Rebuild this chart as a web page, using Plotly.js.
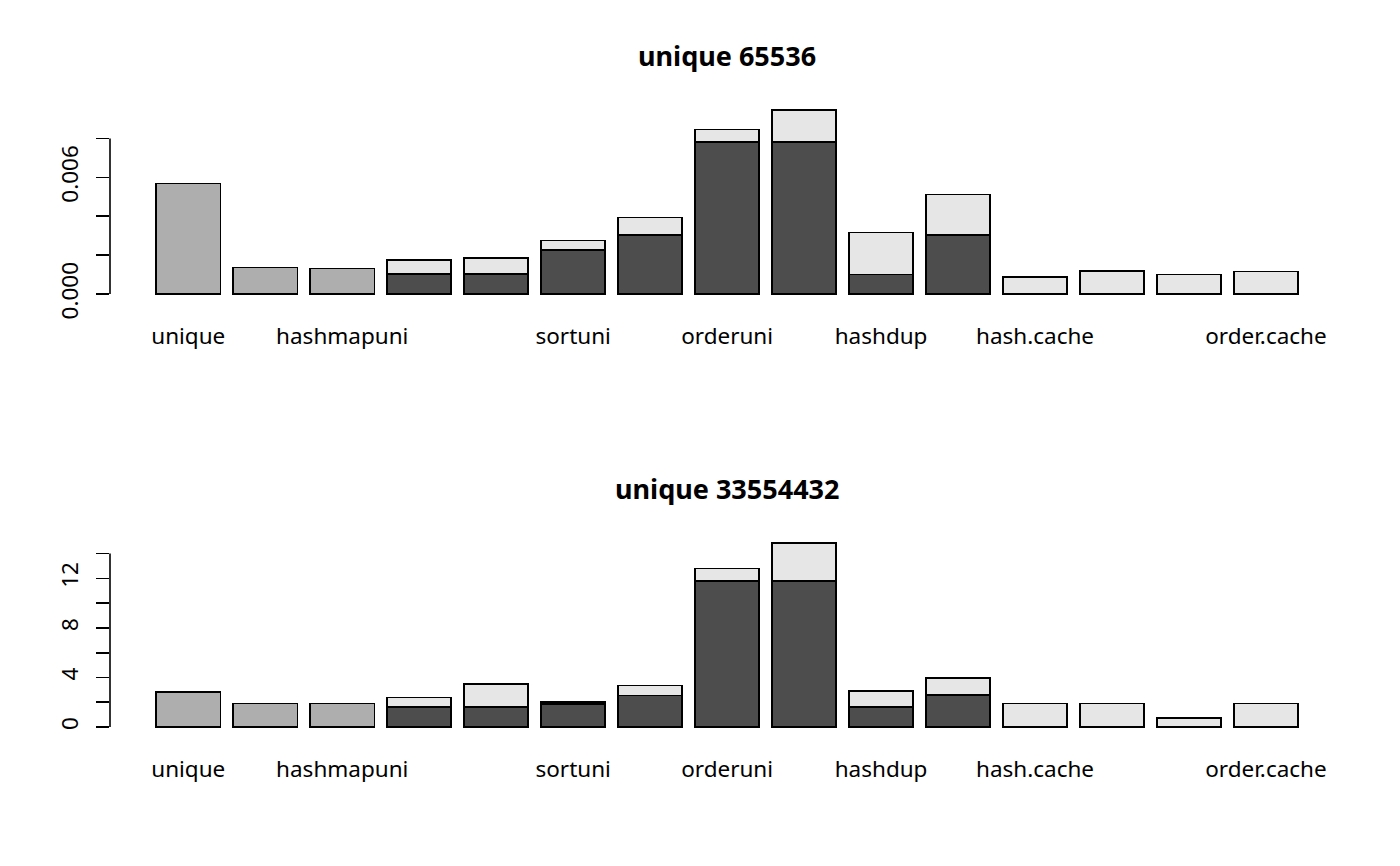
<!DOCTYPE html>
<html>
<head>
<meta charset="utf-8">
<script src="https://cdn.plot.ly/plotly-3.0.1.min.js"></script>
<style>html,body{margin:0;padding:0;background:#fff;}#chart{width:1400px;height:866px;}</style>
</head>
<body>
<div id="chart"></div>
<script>
// ---- data ----
var tickLabels = ['unique', '', 'hashmapuni', '', '', 'sortuni', '', 'orderuni', '', 'hashdup', '', 'hash.cache', '', '', 'order.cache'];

var titleTop = 'unique 65536';
var grayTop  = [0.00569, 0.001375, 0.00131, null, null, null, null, null, null, null, null, null, null, null, null];
var darkTop  = [null, null, null, 0.00103, 0.00103, 0.00225, 0.00303, 0.00782, 0.00782, 0.00101, 0.00303, null, null, null, null];
var lightTop = [null, null, null, 0.00071, 0.00081, 0.00050, 0.00091, 0.00064, 0.00164, 0.00215, 0.00209, 0.00088, 0.00120, 0.00100, 0.00115];
var yTicksTop = [0, 0.002, 0.004, 0.006, 0.008];
var yTickTextTop = ['0.000', '', '', '0.006', ''];

var titleBot = 'unique 33554432';
var grayBot  = [2.82, 1.91, 1.91, null, null, null, null, null, null, null, null, null, null, null, null];
var darkBot  = [null, null, null, 1.61, 1.61, 1.86, 2.56, 11.78, 11.78, 1.61, 2.61, null, null, null, null];
var lightBot = [null, null, null, 0.76, 1.86, 0.18, 0.80, 1.03, 3.07, 1.30, 1.37, 1.91, 1.91, 0.75, 1.91];
var yTicksBot = [0, 2, 4, 6, 8, 10, 12, 14];
var yTickTextBot = ['0', '', '4', '', '8', '', '12', ''];

// ---- styling ----
var W = 1400, H = 866;
var FONT = 'Noto Sans';
var FS = 22.5;
var cDark = '#4D4D4D', cGray = '#AEAEAE', cLight = '#E6E6E6';
var pos = tickLabels.map(function (_, i) { return i; });
var barW = 1 / 1.2;
var xDom = [110 / W, 1357 / W];
var xRange = [-1.017, 15.183];

function totals(a, b, c) {
  return pos.map(function (i) { return (a[i] || 0) + (b[i] || 0) + (c[i] || 0); });
}
function yRange(a, b, c) {
  var m = Math.max.apply(null, totals(a, b, c));
  return [-0.04 * m, 1.04 * m];
}
function barTrace(vals, color, xa, ya) {
  return {
    type: 'bar', x: pos, y: vals, width: barW, xaxis: xa, yaxis: ya,
    marker: { color: color, line: { color: '#000', width: 1.6 } },
    hoverinfo: 'skip', showlegend: false
  };
}

var data = [
  barTrace(grayTop, cGray, 'x', 'y'),
  barTrace(darkTop, cDark, 'x', 'y'),
  barTrace(lightTop, cLight, 'x', 'y'),
  barTrace(grayBot, cGray, 'x2', 'y2'),
  barTrace(darkBot, cDark, 'x2', 'y2'),
  barTrace(lightBot, cLight, 'x2', 'y2')
];

function xAxis(anchor) {
  return {
    domain: xDom, range: xRange, anchor: anchor,
    tickmode: 'array', tickvals: pos, ticktext: tickLabels,
    ticks: '', showline: false, showgrid: false, zeroline: false,
    tickfont: { family: FONT, size: FS, color: '#000' },
    ticklabelstandoff: 19, tickangle: 0, fixedrange: true
  };
}
function yAxis(anchor, dom, rng, tv, tt) {
  return {
    domain: dom, range: rng, anchor: anchor,
    tickmode: 'array', tickvals: tv, ticktext: tt,
    ticks: 'outside', ticklen: 13, tickwidth: 1.6, tickcolor: '#000',
    showline: false, showgrid: false, zeroline: false,
    tickangle: -90, ticklabelstandoff: 9,
    tickfont: { family: FONT, size: FS, color: '#000' }, fixedrange: true
  };
}
function axisLine(yref, tv) {
  return { type: 'line', xref: 'paper', yref: yref, x0: xDom[0], x1: xDom[0],
           y0: tv[0], y1: tv[tv.length - 1], line: { color: '#000', width: 1.6 } };
}
function titleAnn(text, yPix) {
  return { text: '<b>' + text + '</b>', xref: 'paper', yref: 'paper',
           x: 727 / W, y: 1 - yPix / H, xanchor: 'center', yanchor: 'middle',
           showarrow: false, font: { family: FONT, size: 27, color: '#000' } };
}

var layout = {
  width: W, height: H,
  margin: { l: 0, r: 0, t: 0, b: 0 },
  paper_bgcolor: '#fff', plot_bgcolor: '#fff',
  barmode: 'stack', showlegend: false,
  xaxis: xAxis('y'),
  yaxis: yAxis('x', [1 - 301.4 / H, 1 - 102.7 / H], yRange(grayTop, darkTop, lightTop), yTicksTop, yTickTextTop),
  xaxis2: xAxis('y2'),
  yaxis2: yAxis('x2', [1 - 734.4 / H, 1 - 535.7 / H], yRange(grayBot, darkBot, lightBot), yTicksBot, yTickTextBot),
  shapes: [axisLine('y', yTicksTop), axisLine('y2', yTicksBot)],
  annotations: [titleAnn(titleTop, 55.5), titleAnn(titleBot, 488.5)]
};

Plotly.newPlot('chart', data, layout, { displayModeBar: false, staticPlot: true });
</script>
</body>
</html>
